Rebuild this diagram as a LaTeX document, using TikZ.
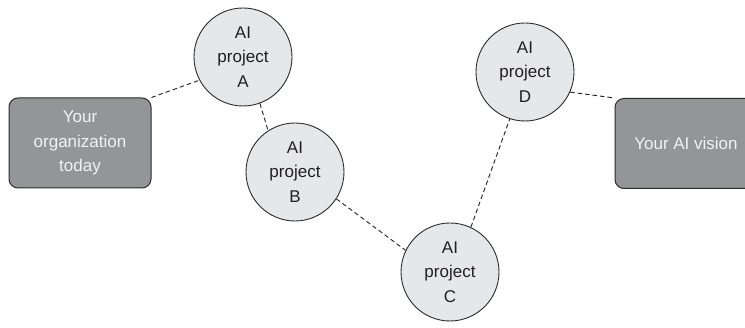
\documentclass[tikz,border=0pt]{standalone}
\usepackage{fontspec}
\setmainfont{Liberation Sans}
\usepackage{xcolor}
\usetikzlibrary{positioning}
\definecolor{ink}{HTML}{231F20}
\definecolor{edge}{HTML}{2B2B2B}
\definecolor{stage}{HTML}{939598}
\definecolor{stagetext}{HTML}{F2F2F2}
\definecolor{softgray}{HTML}{E6E7E8}
\tikzset{
  font=\fontsize{17}{24.5}\selectfont,
  stage/.style={
    draw=edge, line width=1pt, rounded corners=9pt, fill=stage,
    text=stagetext, minimum width=142pt, minimum height=90pt,
    align=center, inner sep=2pt
  },
  project/.style={
    circle, draw=edge, line width=0.9pt, fill=softgray, text=ink,
    minimum size=98pt, align=center, inner sep=0pt
  },
  link/.style={draw=ink, line width=0.9pt, dash pattern=on 4.5pt off 3pt}
}

\begin{document}
\begin{tikzpicture}[x=1pt,y=-1pt]
  \clip (0,0) rectangle (745,328);

  \node[stage] (today) at (80,143) {Your\\organization\\today};
  \node[stage] (vision) at (686,143.5) {Your AI vision};

  \node[project] (projA) at (243,57) {AI\\project\\A};
  \node[project] (projB) at (295,172) {AI\\project\\B};
  \node[project] (projC) at (450,272) {AI\\project\\C};
  \node[project] (projD) at (525,72) {AI\\project\\D};

  \draw[link] (today.north east) -- (projA.208);
  \draw[link] (projA.290) -- (projB.123);
  \draw[link] (projB.327) -- (projC.154);
  \draw[link] (projC.65) -- (projD.252);
  \draw[link] (projD.336) -- (vision.north west);
\end{tikzpicture}
\end{document}
